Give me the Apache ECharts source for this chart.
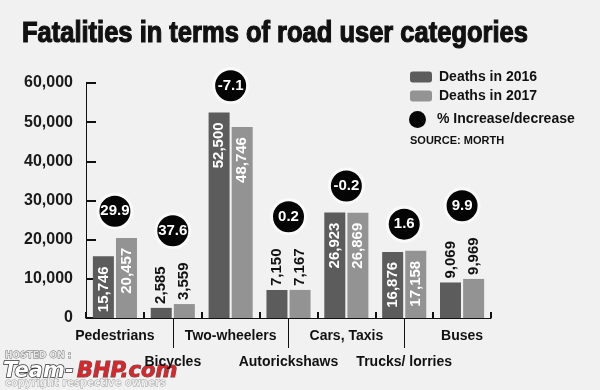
<!DOCTYPE html>
<html><head><meta charset="utf-8">
<script src="https://cdn.jsdelivr.net/npm/echarts/dist/echarts.min.js"></script>
<style>html,body{margin:0;padding:0;background:#f1f1f1}#c{width:600px;height:390px}</style>
</head><body><div id="c"></div>
<script>
const categories = ['Pedestrians', 'Bicycles', 'Two-wheelers', 'Autorickshaws', 'Cars, Taxis', 'Trucks/ lorries', 'Buses'];
const deaths2016 = [15746, 2585, 52500, 7150, 26923, 16876, 9069];
const deaths2017 = [20457, 3559, 48746, 7167, 26869, 17158, 9969];
const pctChange = ['29.9', '37.6', '-7.1', '0.2', '-0.2', '1.6', '9.9'];
const seriesNames = ['Deaths in 2016', 'Deaths in 2017', '% Increase/decrease'];

const FONT = '"Liberation Sans", Arial, sans-serif';
const fmt = v => Number(v).toLocaleString('en-US');
const INSIDE_MIN = 12000;

const insideLabel = {show: true, position: 'insideTop', rotate: 90, align: 'right', verticalAlign: 'middle',
  distance: 10, color: '#ffffff', fontSize: 15, fontWeight: 'bold', fontFamily: FONT, formatter: p => fmt(p.value)};
const outsideLabel = {show: true, position: 'top', rotate: 90, align: 'left', verticalAlign: 'middle',
  distance: 4, color: '#111111', fontSize: 15, fontWeight: 'bold', fontFamily: FONT, formatter: p => fmt(p.value)};

const barData = arr => arr.map(v => ({value: v, label: v > INSIDE_MIN ? insideLabel : outsideLabel}));
// badge sits above the tallest bar (or above its outside label)
const badgeData = categories.map((c, i) => {
  const m = Math.max(deaths2016[i], deaths2017[i]);
  return [i, m + (m > INSIDE_MIN ? 6800 : 18700)];
});

const chart = echarts.init(document.getElementById('c'), null, {renderer: 'canvas'});
chart.setOption({
  backgroundColor: '#f1f1f1',
  animation: false,
  textStyle: {fontFamily: FONT},
  grid: {left: 86, right: 109, top: 83, bottom: 72},
  legend: [{
    data: seriesNames.slice(0, 2), orient: 'vertical', left: 410, top: 70, padding: 0,
    itemWidth: 22, itemHeight: 11, itemGap: 5,
    textStyle: {fontSize: 14, fontWeight: 'bold', color: '#111', fontFamily: FONT, padding: [0, 0, 0, 2]}
  }, {
    data: [seriesNames[2]], orient: 'vertical', left: 409, top: 111, padding: 0,
    itemWidth: 17, itemHeight: 17, itemStyle: {borderWidth: 0, opacity: 1},
    textStyle: {fontSize: 14, fontWeight: 'bold', color: '#111', fontFamily: FONT, padding: [0, 0, 0, 6]}
  }],
  xAxis: [{
    type: 'category', data: categories, position: 'bottom',
    axisLine: {show: true, lineStyle: {color: '#111', width: 1}},
    axisTick: {show: true, inside: true, interval: 0, length: 6, lineStyle: {color: '#111', width: 2}},
    axisLabel: {interval: 0, margin: 5, fontSize: 14, fontWeight: 'bold', color: '#111', fontFamily: FONT,
      lineHeight: 26, formatter: (v, i) => (i % 2 ? '\n' + v : v)}
  }, {
    type: 'category', data: categories, position: 'bottom', offset: 0,
    axisLine: {show: false},
    axisTick: {show: true, alignWithLabel: true, length: 30, interval: i => i % 2 === 1, lineStyle: {color: '#111'}},
    axisLabel: {show: false}
  }],
  yAxis: [{
    type: 'value', min: 0, max: 60000, interval: 10000,
    axisLine: {show: true, lineStyle: {color: '#111'}},
    axisTick: {show: true, inside: true, length: 10, lineStyle: {color: '#111', width: 2}},
    splitLine: {show: false},
    axisLabel: {margin: 13, fontSize: 16, fontWeight: 'bold', color: '#1a1a1a', fontFamily: FONT, formatter: v => fmt(v)}
  }],
  series: [{
    name: seriesNames[0], type: 'bar', data: barData(deaths2016), barWidth: 21, barGap: '10%',
    itemStyle: {color: '#5c5c5c'}
  }, {
    name: seriesNames[1], type: 'bar', data: barData(deaths2017), barWidth: 21,
    itemStyle: {color: '#939393'}
  }, {
    name: seriesNames[2], type: 'scatter', data: badgeData, symbol: 'circle', symbolSize: 34, z: 5,
    itemStyle: {color: '#050505', opacity: 1, borderColor: '#fafafa', borderWidth: 3},
    label: {show: true, position: 'inside', color: '#fff', fontSize: 15, fontWeight: 'bold', fontFamily: FONT,
      formatter: p => pctChange[p.dataIndex]}
  }],
  graphic: [{
    type: 'text', x: 22, y: 19, scaleX: 0.85,
    style: {text: 'Fatalities in terms of road user categories', font: 'bold 30px ' + FONT, fill: '#111', stroke: '#111', lineWidth: 1.2}
  }, {
    type: 'text', x: 410, y: 135,
    style: {text: 'SOURCE: MORTH', font: 'bold 11px ' + FONT, fill: '#111'}
  }, {
    type: 'text', x: 5, y: 351, z: -1,
    style: {text: 'HOSTED ON :', font: 'bold 9px "DejaVu Sans", sans-serif', fill: '#e6e6e6', stroke: '#666', lineWidth: 0.8}
  }, {
    type: 'text', x: 3, y: 361, z: -1,
    style: {text: 'Team-', font: 'italic bold 21px "DejaVu Sans", sans-serif', fill: '#ffffff', stroke: '#333', lineWidth: 1.5}
  }, {
    type: 'text', x: 77, y: 361, z: -1,
    style: {text: 'BHP.com', font: 'italic bold 21px "DejaVu Sans", sans-serif', fill: '#d8262c', stroke: '#555', lineWidth: 1}
  }, {
    type: 'text', x: 5, y: 378, z: -1,
    style: {text: 'copyright respective owners', font: 'bold 10px "DejaVu Sans", sans-serif', fill: '#eeeeee', stroke: '#999', lineWidth: 0.8}
  }]
});
</script>
</body></html>
